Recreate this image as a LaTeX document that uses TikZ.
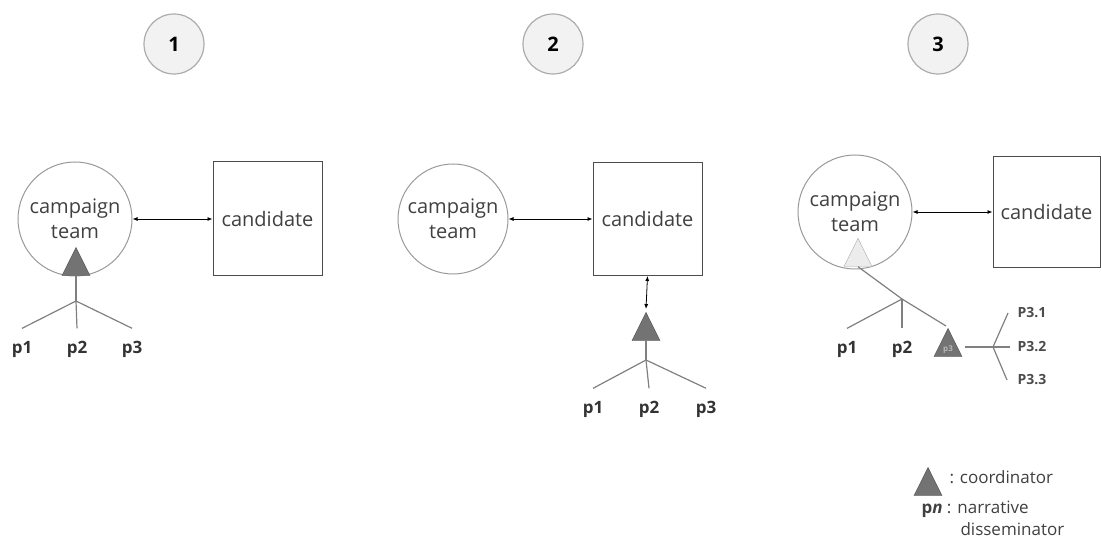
\documentclass[tikz,border=0pt]{standalone}
\usepackage{fontspec}
\setmainfont{Open Sans}
\usetikzlibrary{arrows.meta, positioning, shapes.geometric}

\begin{document}
\begin{tikzpicture} [x = 1pt, y = 1pt,
    num/.style = {circle, draw = gray!65, line width = 1.2pt, fill = gray!10,
        minimum size = 60pt, font = \bfseries\fontsize{20}{20}\selectfont},
    team/.style = {circle, draw = gray!80, line width = 1pt, minimum size = 114pt,
        align = center, text = black!75, font = \fontsize{20}{25}\selectfont},
    cand/.style = {rectangle, draw = black!70, line width = 1pt, minimum width = 109pt,
        minimum height = 114pt, text = black!75, font = \fontsize{20}{25}\selectfont},
    coord/.style = {isosceles triangle, isosceles triangle apex angle = 53,
        shape border rotate = 90, minimum width = 28pt, minimum height = 28pt,
        inner sep = 0pt, draw = black!70, fill = black!55, anchor = apex},
    branch/.style = {draw = gray, line width = 1.2pt},
    pn/.style = {font = \bfseries\fontsize{17}{17}\selectfont, text = black!80},
    pnn/.style = {font = \bfseries\fontsize{14}{14}\selectfont, text = black!70, anchor = west},
    legend/.style = {font = \fontsize{17}{17}\selectfont, text = black!75, anchor = west},
    link/.style = {{Latex[length=5pt, width=4pt]}-{Latex[length=5pt, width=4pt]}, line width = 0.8pt}]

\useasboundingbox (0,0) rectangle (1101,555);

\node (n1) [num] at (174,511) {1};
\node (n2) [num] at (553,511) {2};
\node (n3) [num] at (938,511) {3};

% stage 1
\node (ct1) [team] at (75,336) {campaign\\team};
\node (cand1) [cand] at (267.5,336) {candidate};
\node (tri1) [coord] at (76,308) {};
\coordinate (j1) at (76,254);
\node (p11) [pn] at (22,206) {p1};
\node (p12) [pn] at (77,206) {p2};
\node (p13) [pn] at (132,206) {p3};

\path [link]
    (ct1) edge (cand1);
\draw [branch] (tri1.lower side) -- (j1);
\draw [branch] (j1) -- ([yshift=9pt]p11.north);
\draw [branch] (j1) -- ([yshift=9pt]p12.north);
\draw [branch] (j1) -- ([yshift=9pt]p13.north);

% stage 2
\node (ct2) [team, minimum size = 110pt] at (453,336) {campaign\\team};
\node (cand2) [cand, minimum height = 113pt] at (647.5,336) {candidate};
\node (tri2) [coord] at (646,243) {};
\coordinate (j2) at (646,195);
\node (p21) [pn] at (593,146) {p1};
\node (p22) [pn] at (649,146) {p2};
\node (p23) [pn] at (706,146) {p3};

\path [link]
    (ct2) edge (cand2);
\path [link]
    (cand2.south) edge ([yshift=3pt]tri2.apex);
\draw [branch] (tri2.lower side) -- (j2);
\draw [branch] (j2) -- ([yshift=9pt]p21.north);
\draw [branch] (j2) -- ([yshift=9pt]p22.north);
\draw [branch] (j2) -- ([yshift=9pt]p23.north);

% stage 3
\node (ct3) [team] at (855,343) {campaign\\team};
\node (cand3) [cand, minimum width = 107pt, minimum height = 111pt] at (1046.5,343) {candidate};
\node (tri3) [coord, draw = gray!70, fill = gray!15] at (858,317) {};
\coordinate (j3) at (902,256);
\node (p31) [pn] at (847,206) {p1};
\node (p32) [pn] at (902,206) {p2};
\draw [branch] (tri3.lower side) -- (j3);
\draw [branch] (j3) -- ([yshift=9pt]p31.north);
\draw [branch] (j3) -- ([yshift=9pt]p32.north);
\draw [branch] (j3) -- (946,229);
\node (tri4) [coord] at (948,227) {};
\node (t4) [font = \bfseries\fontsize{8}{8}\selectfont, text = gray!55] at (948,205) {p3};

\coordinate (s4) at (965,208);
\coordinate (j4) at (993,208);
\node (q1) [pnn] at (1014,242) {P3.1};
\node (q2) [pnn] at (1014,208) {P3.2};
\node (q3) [pnn] at (1014,175) {P3.3};

\path [link]
    (ct3) edge (cand3);
\draw [branch] (s4) -- (j4);
\draw [branch] (j4) -- ([xshift=-6pt]q1.west);
\draw [branch] (j4) -- ([xshift=-4pt]q2.west);
\draw [branch] (j4) -- ([xshift=-7pt]q3.west);

% legend
\node (lg) [coord] at (928,88) {};
\node (lgc) [legend] at (946,78) {: coordinator};
\node (lgp) [legend] at (918,46) {\textbf{p\textit{n}} : narrative};
\node (lgd) [legend] at (957,26) {disseminator};

\end{tikzpicture}
\end{document}
